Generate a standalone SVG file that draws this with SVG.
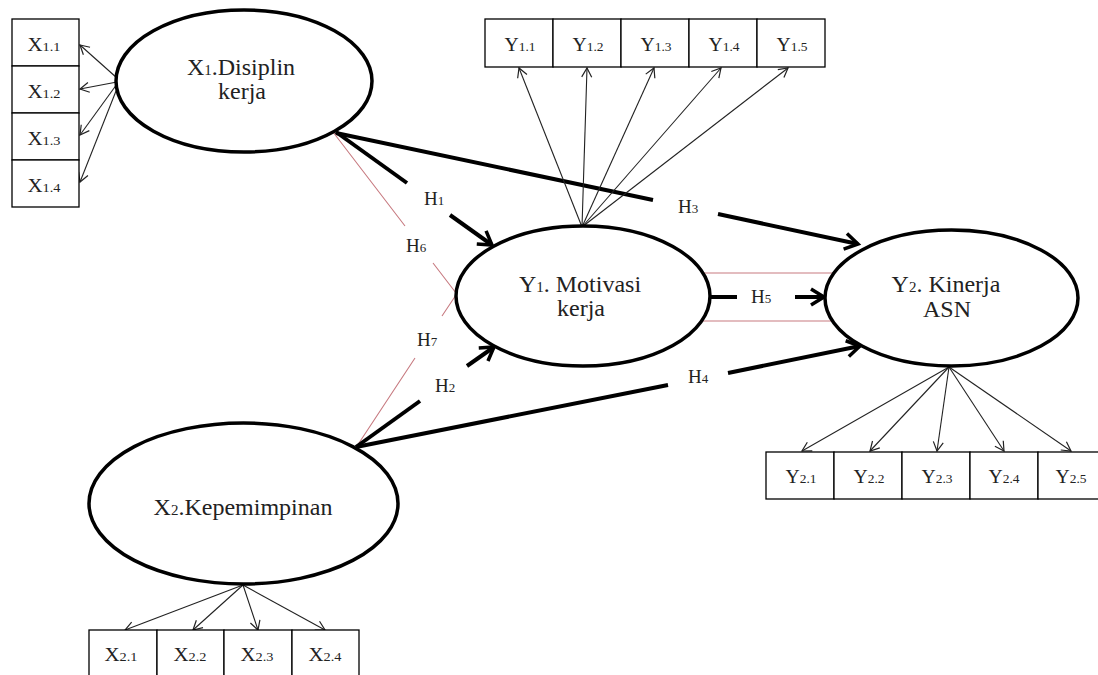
<svg xmlns="http://www.w3.org/2000/svg" width="1098" height="675" viewBox="0 0 1098 675">
<style>
text{font-family:'Liberation Serif','DejaVu Serif','Times New Roman',serif;fill:#222}
.t{font-size:24px;text-anchor:middle}
.s{font-size:15px}
.b{font-size:19px;text-anchor:middle}
.bs{font-size:13px}
.h{font-size:19px}
.hs{font-size:13px}
.ell{fill:#fff;stroke:#000;stroke-width:3.5}
.box{fill:#fff;stroke:#000;stroke-width:1.3}
.thick{stroke:#000;stroke-width:4;fill:none}
.thin{stroke:#222;stroke-width:1.1;fill:none}
.red{stroke:#c77a80;stroke-width:1.1;fill:none}
</style>
<defs>
<marker id="ah" markerUnits="userSpaceOnUse" markerWidth="24" markerHeight="24" viewBox="-16 -12 20 24" refX="0" refY="0" orient="auto">
<path d="M-13,-8 L0,0 L-13,8" fill="none" stroke="#000" stroke-width="3.5"/>
</marker>
<marker id="at" markerUnits="userSpaceOnUse" markerWidth="14" markerHeight="14" viewBox="-11 -7 13 14" refX="0" refY="0" orient="auto">
<path d="M-9,-5 L0,0 L-9,5" fill="none" stroke="#222" stroke-width="1.2"/>
</marker>
</defs>
<rect width="1098" height="675" fill="#fff"/>

<g id="connectors">
<path class="red" d="M333,132 L405,226 M433,263 L456,293"/>
<path class="red" d="M357,446 L415,358 M442,316 L456,295"/>
<path class="red" d="M700,273 L836,273 M700,321 L836,321"/>
<path class="thick" d="M336,132 L407,183"/>
<path class="thick" d="M450,215 L492,245" marker-end="url(#ah)"/>
<path class="thick" d="M336,133 L653,200"/>
<path class="thick" d="M718,214 L858,244" marker-end="url(#ah)"/>
<path class="thick" d="M356,447 L420,401"/>
<path class="thick" d="M467,366 L494,347" marker-end="url(#ah)"/>
<path class="thick" d="M356,447 L668,385"/>
<path class="thick" d="M728,373 L860,346" marker-end="url(#ah)"/>
<path class="thick" d="M709,297 L737,297"/>
<path class="thick" d="M795,297 L824,297" marker-end="url(#ah)"/>
<path class="thin" d="M117,78 L80,45" marker-end="url(#at)"/>
<path class="thin" d="M117,82 L80,89" marker-end="url(#at)"/>
<path class="thin" d="M117,84 L80,135" marker-end="url(#at)"/>
<path class="thin" d="M118,86 L80,182" marker-end="url(#at)"/>
<path class="thin" d="M582,227 L519,68" marker-end="url(#at)"/>
<path class="thin" d="M582,227 L587,68" marker-end="url(#at)"/>
<path class="thin" d="M582,227 L654,68" marker-end="url(#at)"/>
<path class="thin" d="M582,227 L721,68" marker-end="url(#at)"/>
<path class="thin" d="M582,227 L788,68" marker-end="url(#at)"/>
<path class="thin" d="M949,367 L802,451" marker-end="url(#at)"/>
<path class="thin" d="M949,367 L870,451" marker-end="url(#at)"/>
<path class="thin" d="M949,367 L937,451" marker-end="url(#at)"/>
<path class="thin" d="M949,367 L1004,451" marker-end="url(#at)"/>
<path class="thin" d="M949,367 L1071,451" marker-end="url(#at)"/>
<path class="thin" d="M243,585 L125,630" marker-end="url(#at)"/>
<path class="thin" d="M243,585 L193,630" marker-end="url(#at)"/>
<path class="thin" d="M243,585 L258,630" marker-end="url(#at)"/>
<path class="thin" d="M243,585 L325,630" marker-end="url(#at)"/>
<text class="h" x="424" y="205">H<tspan class="hs">1</tspan></text>
<text class="h" x="678" y="213">H<tspan class="hs">3</tspan></text>
<text class="h" x="406" y="252">H<tspan class="hs">6</tspan></text>
<text class="h" x="417" y="346">H<tspan class="hs">7</tspan></text>
<text class="h" x="435" y="392">H<tspan class="hs">2</tspan></text>
<text class="h" x="688" y="383">H<tspan class="hs">4</tspan></text>
<text class="h" x="751" y="303">H<tspan class="hs">5</tspan></text>
</g>

<g id="X1">
<ellipse class="ell" cx="244" cy="81" rx="128" ry="71"/>
<text class="t" x="241" y="75">X<tspan class="s">1</tspan>.Disiplin</text>
<text class="t" x="242" y="99">kerja</text>
</g>
<g id="X1-indicators">
<rect class="box" x="12" y="19" width="67" height="47"/>
<rect class="box" x="12" y="66" width="67" height="47"/>
<rect class="box" x="12" y="113" width="67" height="47"/>
<rect class="box" x="12" y="160" width="67" height="47"/>
<text class="b" x="44" y="51" textLength="33" lengthAdjust="spacingAndGlyphs">X<tspan class="bs">1.1</tspan></text>
<text class="b" x="44" y="98" textLength="33" lengthAdjust="spacingAndGlyphs">X<tspan class="bs">1.2</tspan></text>
<text class="b" x="44" y="145" textLength="33" lengthAdjust="spacingAndGlyphs">X<tspan class="bs">1.3</tspan></text>
<text class="b" x="44" y="192" textLength="33" lengthAdjust="spacingAndGlyphs">X<tspan class="bs">1.4</tspan></text>
</g>

<g id="Y1">
<ellipse class="ell" cx="583" cy="296" rx="127" ry="70"/>
<text class="t" x="580" y="292">Y<tspan class="s">1</tspan>. Motivasi</text>
<text class="t" x="581" y="316">kerja</text>
</g>
<g id="Y1-indicators">
<rect class="box" x="485" y="19" width="68" height="48"/>
<rect class="box" x="553" y="19" width="68" height="48"/>
<rect class="box" x="621" y="19" width="68" height="48"/>
<rect class="box" x="689" y="19" width="68" height="48"/>
<rect class="box" x="757" y="19" width="68" height="48"/>
<text class="b" x="520" y="51" textLength="31" lengthAdjust="spacingAndGlyphs">Y<tspan class="bs">1.1</tspan></text>
<text class="b" x="588" y="51" textLength="31" lengthAdjust="spacingAndGlyphs">Y<tspan class="bs">1.2</tspan></text>
<text class="b" x="656" y="51" textLength="31" lengthAdjust="spacingAndGlyphs">Y<tspan class="bs">1.3</tspan></text>
<text class="b" x="724" y="51" textLength="31" lengthAdjust="spacingAndGlyphs">Y<tspan class="bs">1.4</tspan></text>
<text class="b" x="792" y="51" textLength="31" lengthAdjust="spacingAndGlyphs">Y<tspan class="bs">1.5</tspan></text>
</g>

<g id="Y2">
<ellipse class="ell" cx="951.5" cy="298" rx="126.5" ry="68"/>
<text class="t" x="946" y="292">Y<tspan class="s">2</tspan>. Kinerja</text>
<text class="t" x="947" y="317">ASN</text>
</g>
<g id="Y2-indicators">
<rect class="box" x="766" y="452" width="68" height="47"/>
<rect class="box" x="834" y="452" width="68" height="47"/>
<rect class="box" x="902" y="452" width="68" height="47"/>
<rect class="box" x="970" y="452" width="68" height="47"/>
<rect class="box" x="1038" y="452" width="68" height="47"/>
<text class="b" x="801" y="483" textLength="31" lengthAdjust="spacingAndGlyphs">Y<tspan class="bs">2.1</tspan></text>
<text class="b" x="869" y="483" textLength="31" lengthAdjust="spacingAndGlyphs">Y<tspan class="bs">2.2</tspan></text>
<text class="b" x="937" y="483" textLength="31" lengthAdjust="spacingAndGlyphs">Y<tspan class="bs">2.3</tspan></text>
<text class="b" x="1004" y="483" textLength="31" lengthAdjust="spacingAndGlyphs">Y<tspan class="bs">2.4</tspan></text>
<text class="b" x="1071" y="483" textLength="31" lengthAdjust="spacingAndGlyphs">Y<tspan class="bs">2.5</tspan></text>
</g>

<g id="X2">
<ellipse class="ell" cx="243.5" cy="503.5" rx="154.5" ry="80.5"/>
<text class="t" x="243" y="515">X<tspan class="s">2</tspan>.Kepemimpinan</text>
</g>
<g id="X2-indicators">
<rect class="box" x="89" y="630" width="68" height="60"/>
<rect class="box" x="157" y="630" width="67" height="60"/>
<rect class="box" x="224" y="630" width="68" height="60"/>
<rect class="box" x="292" y="630" width="67" height="60"/>
<text class="b" x="121" y="661" textLength="33" lengthAdjust="spacingAndGlyphs">X<tspan class="bs">2.1</tspan></text>
<text class="b" x="190" y="661" textLength="33" lengthAdjust="spacingAndGlyphs">X<tspan class="bs">2.2</tspan></text>
<text class="b" x="257" y="661" textLength="33" lengthAdjust="spacingAndGlyphs">X<tspan class="bs">2.3</tspan></text>
<text class="b" x="325" y="661" textLength="33" lengthAdjust="spacingAndGlyphs">X<tspan class="bs">2.4</tspan></text>
</g>
</svg>
